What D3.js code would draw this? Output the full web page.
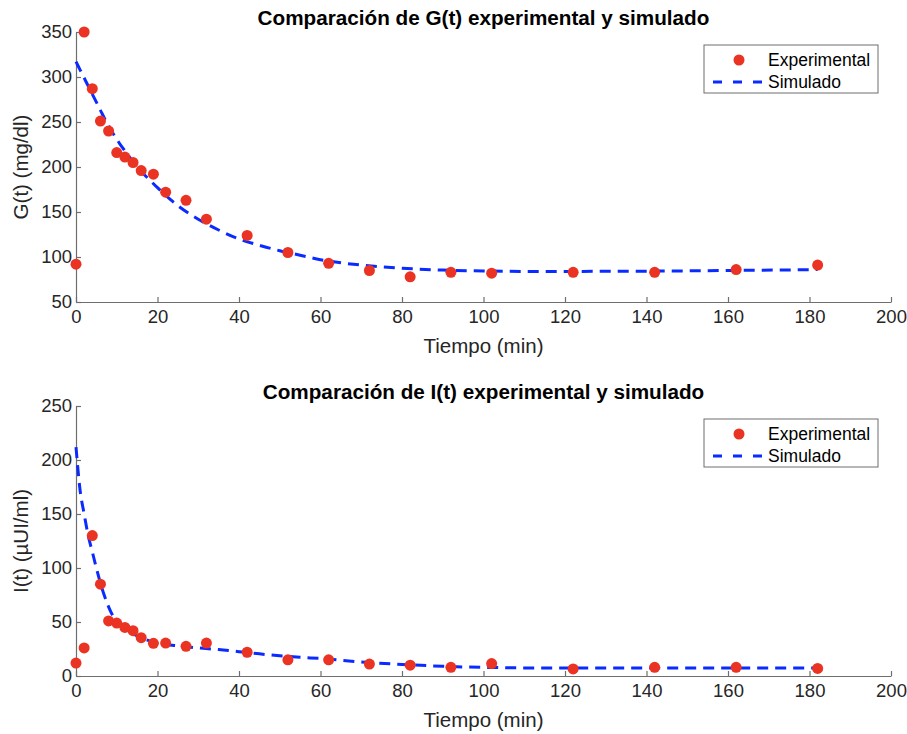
<!DOCTYPE html>
<html>
<head>
<meta charset="utf-8">
<script src="https://cdn.jsdelivr.net/npm/d3@7"></script>
<style>
  html, body { margin: 0; padding: 0; background: #ffffff; }
  svg { display: block; font-family: "Liberation Sans", Arial, Helvetica, sans-serif; }
</style>
</head>
<body>
<svg id="chart" width="907" height="734"></svg>
<script>
// ---------------- DATA ----------------
const expTimes = [0, 2, 4, 6, 8, 10, 12, 14, 16, 19, 22, 27, 32, 42, 52, 62, 72, 82, 92, 102, 122, 142, 162, 182];
const gExperimental = [92, 350, 287, 251, 240, 216, 211, 205, 196, 192, 172, 163, 142, 124, 105, 93, 85, 78, 83, 82, 83, 83, 86, 91];
const iExperimental = [12, 26, 130, 85, 51, 49, 45, 42, 35.5, 30.3, 30.5, 27.5, 30.5, 22, 15, 15, 11, 10, 8, 11.5, 6.5, 8, 8, 7];

const simTimes = [0, 1, 2, 3, 4, 5, 6, 7, 8, 9, 10, 11, 12, 14, 16, 18, 20, 25, 30, 35, 40, 45, 50, 55, 60, 70, 80, 90, 100, 110, 120, 140, 160, 182];
const gSimulated = [317, 308, 299, 290, 281, 272, 263, 254, 246, 238, 231, 224, 218, 206, 195, 186, 177, 157, 142, 130, 120, 113, 107, 102, 97, 91, 87.5, 85.5, 84.5, 84, 84, 84.3, 85, 86];
const iSimulated = [212, 172, 150, 130, 115, 100, 86, 74, 64, 56, 50.5, 46.5, 43.5, 39, 35.5, 32.5, 30.5, 28, 26, 24.5, 22.5, 20.5, 18.7, 17.3, 16.2, 13, 10.7, 9, 8, 7.5, 7.3, 7.4, 7.5, 7.5];

const xTicks = [0, 20, 40, 60, 80, 100, 120, 140, 160, 180, 200];
const gTicks = [50, 100, 150, 200, 250, 300, 350];
const iTicks = [0, 50, 100, 150, 200, 250];

const titles = ["Comparación de G(t) experimental y simulado", "Comparación de I(t) experimental y simulado"];
const yLabels = ["G(t) (mg/dl)", "I(t) (\u00B5UI/ml)"];
const xLabel = "Tiempo (min)";
const legendLabels = ["Experimental", "Simulado"];

// ---------------- STYLE ----------------
const RED = "#ea3323";
const BLUE = "#0a2bff";
const AXIS = "#6e6e6e";
const TEXT = "#262626";

const svg = d3.select("#chart");
const left = 76, right = 891;

const panels = [
  { top: 32, bottom: 302, domain: [50, 350], ticks: gTicks, exp: gExperimental, sim: gSimulated, title: titles[0], ylab: yLabels[0] },
  { top: 406, bottom: 676, domain: [0, 250], ticks: iTicks, exp: iExperimental, sim: iSimulated, title: titles[1], ylab: yLabels[1] }
];

panels.forEach(p => {
  const x = d3.scaleLinear().domain([0, 200]).range([left, right]);
  const y = d3.scaleLinear().domain(p.domain).range([p.bottom, p.top]);
  const g = svg.append("g");

  // axes
  const xAxis = d3.axisBottom(x).tickValues(xTicks).tickSizeInner(-5).tickSizeOuter(0).tickPadding(8).tickFormat(d3.format("d"));
  const yAxis = d3.axisLeft(y).tickValues(p.ticks).tickSizeInner(-5).tickSizeOuter(0).tickPadding(4).tickFormat(d3.format("d"));

  const gx = g.append("g").attr("transform", `translate(0,${p.bottom})`).call(xAxis);
  const gy = g.append("g").attr("transform", `translate(${left},0)`).call(yAxis);
  [gx, gy].forEach(a => {
    a.select(".domain").attr("stroke", AXIS).attr("stroke-width", 1.2);
    a.selectAll(".tick line").attr("stroke", AXIS).attr("stroke-width", 1.2);
    a.selectAll(".tick text").attr("fill", TEXT).style("font-size", "18.5px").style("font-family", "'Liberation Sans', Arial, sans-serif");
  });

  // simulated dashed line
  const line = d3.line()
    .x((d, i) => x(simTimes[i]))
    .y(d => y(d))
    .curve(d3.curveMonotoneX);
  g.append("path")
    .datum(p.sim)
    .attr("d", line)
    .attr("fill", "none")
    .attr("stroke", BLUE)
    .attr("stroke-width", 3)
    .attr("stroke-dasharray", "11,7");

  // experimental points
  g.append("g").selectAll("circle")
    .data(p.exp)
    .join("circle")
    .attr("cx", (d, i) => x(expTimes[i]))
    .attr("cy", d => y(d))
    .attr("r", 5.5)
    .attr("fill", RED);

  // title
  g.append("text")
    .attr("x", (left + right) / 2)
    .attr("y", p.top - 7)
    .attr("text-anchor", "middle")
    .attr("fill", "#000")
    .style("font-weight", "bold")
    .style("font-size", "20.7px")
    .text(p.title);

  // x label
  g.append("text")
    .attr("x", (left + right) / 2)
    .attr("y", p.bottom + 51)
    .attr("text-anchor", "middle")
    .attr("fill", TEXT)
    .style("font-size", "20.5px")
    .text(xLabel);

  // y label
  g.append("text")
    .attr("transform", `translate(27.5,${(p.top + p.bottom) / 2}) rotate(-90)`)
    .attr("text-anchor", "middle")
    .attr("fill", TEXT)
    .style("font-size", "20.5px")
    .text(p.ylab);

  // legend
  const lx = 704, ly = p.top + 13, lw = 174, lh = 48;
  const lg = g.append("g");
  lg.append("rect")
    .attr("x", lx).attr("y", ly).attr("width", lw).attr("height", lh)
    .attr("fill", "#fff").attr("stroke", AXIS).attr("stroke-width", 1);
  lg.append("circle")
    .attr("cx", lx + 35).attr("cy", ly + 15).attr("r", 5.5).attr("fill", RED);
  lg.append("line")
    .attr("x1", lx + 9).attr("x2", lx + 63)
    .attr("y1", ly + 37).attr("y2", ly + 37)
    .attr("stroke", BLUE).attr("stroke-width", 3)
    .attr("stroke-dasharray", "9,11");
  lg.append("text")
    .attr("x", lx + 64).attr("y", ly + 21)
    .attr("fill", "#000").style("font-size", "17.5px")
    .text(legendLabels[0]);
  lg.append("text")
    .attr("x", lx + 64).attr("y", ly + 42.5)
    .attr("fill", "#000").style("font-size", "17.5px")
    .text(legendLabels[1]);
});
</script>
</body>
</html>
